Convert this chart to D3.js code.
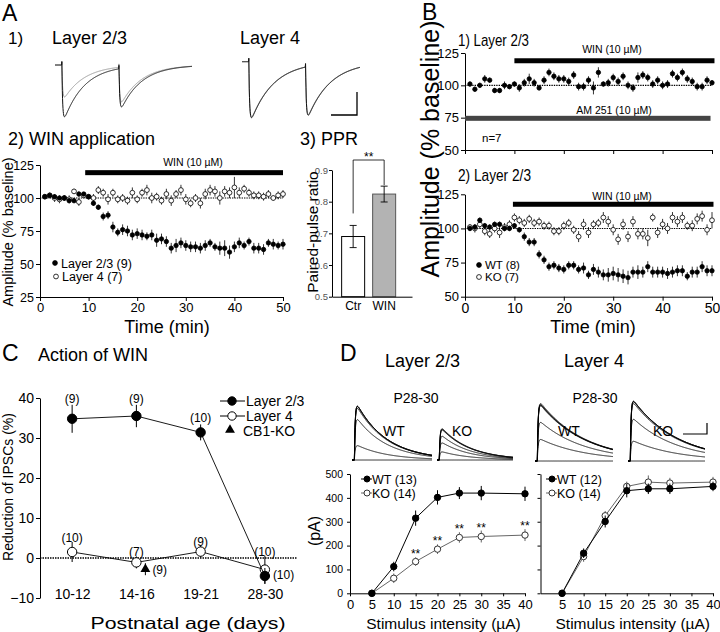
<!DOCTYPE html>
<html>
<head>
<meta charset="utf-8">
<script src="https://cdn.jsdelivr.net/npm/d3@7"></script>
<style>
  body { margin: 0; background: #fff; }
  svg { display: block; font-family: "Liberation Sans", Arial, sans-serif; }
</style>
</head>
<body>
<div id="chart"></div>
<script>
// ---------- data ----------
var minutes = d3.range(1, 51);
var minuteTicks = [0, 10, 20, 30, 40, 50];

// A1 paired-pulse traces (pA per pulse)
var a1Onsets = [6, 56];
var a1L23Ctr = [-450, -335], a1L23Win = [-278, -302];
var a1L4Ctr = [-487, -424], a1L4Win = [-480, -418];

// A2 WIN application (% baseline)
var a2Layer23 = [101,102,101,100,100,98,98,103,103,101, 96,93,86,87,78,74,76,75,72,73,
                 72,71,72,68,69,67,62,64,66,64, 63,63,62,64,66,63,62,62,59,63, 66,64,67,62,62,61,66,65,64,65];
var a2Layer23Err = [1,1.5,1,1.5,2,2,2,2,1.5,1.5, 2,2,3,3,4,3,4,4,4,4,
                    4,3,4,5,4,4,4,5,4,4, 4,4,4,4,3,3,5,6,5,4, 4,3,3,4,4,4,3,4,3,4];
var a2Layer4 = [101,102,100,99,100,99,105,97,102,101, 100,106,104,99,104,99,100,98,104,99,
                104,106,100,101,98,103,98,103,106,99, 96,100,96,103,106,105,100,105,104,108, 104,107,104,102,102,101,103,100,102,103];
var a2Layer4Err = [1.5,2,3,3,2,3,2,3,2,2, 3,3,3,4,3,3,3,3,4,3,
                   3,4,4,3,3,4,4,3,4,4, 3,3,4,4,4,4,5,4,4,8, 4,3,3,3,3,3,3,2,3,3];

// A3 paired-pulse ratio
var pprLabels = ["Ctr", "WIN"];
var pprValues = [0.69, 0.824];
var pprErr = [0.035, 0.025];

// B1 WIN on top of AM 251 (% baseline)
var b1Values = [101,97,100,105,104,96,96,100,99,101, 98,102,105,102,98,104,110,107,105,105,
                103,108,99,99,104,98,110,101,102,106, 103,107,100,98,106,108,106,101,104,100, 101,109,106,110,105,103,99,99,104,102];
var b1Err = [2,2,2,3,2,2,2,3,2,2, 3,3,4,3,2,3,3,3,3,3, 3,3,3,3,3,5,4,2,3,3,
             3,3,3,3,4,3,3,3,3,3, 3,3,3,3,3,3,3,3,3,2];

// B2 WT vs CB1-KO (% baseline)
var b2WT = [100,101,106,102,101,103,103,100,100,102, 99,94,90,90,81,77,72,73,71,70,
            73,73,70,71,66,70,68,66,66,67, 66,65,64,68,68,68,72,68,68,68, 67,68,69,69,65,68,68,72,69,69];
var b2WTErr = [2,2,2,2,2,2,2,2,2,2, 2,3,3,3,3,3,3,3,3,3, 3,3,3,4,3,4,4,4,5,5,
               5,5,5,4,5,4,4,4,4,4, 4,4,4,4,3,4,4,4,4,4];
var b2KO = [101,100,103,98,96,100,97,101,103,108, 106,104,107,104,105,102,102,98,98,102,
            104,99,94,103,97,103,104,108,105,99, 92,103,94,105,96,96,93,108,97,103, 100,108,105,108,102,102,107,109,99,106];
var b2KOErr = [2,3,3,3,3,3,4,3,3,3, 3,3,3,3,3,3,3,3,3,3, 3,3,4,4,4,3,3,4,4,4,
               4,4,4,4,4,4,6,3,4,4, 4,4,4,4,3,4,4,4,4,6];

// C action of WIN vs age (% reduction)
var ageLabels = ["10-12", "14-16", "19-21", "28-30"];
var cLayer23 = [34.8, 35.5, 31.4, -4.5], cLayer23Err = [3.5, 2.8, 2, 2];
var cLayer23N = ["(9)", "(9)", "(10)", "(10)"];
var cLayer4 = [1.5, -1.1, 1.6, -2.9], cLayer4Err = [2.5, 1.5, 1.5, 3.5];
var cLayer4N = ["(10)", "(7)", "(9)", "(10)"];
var cKOAge = "14-16", cKOValue = -2.8, cKOErr = 1.5, cKON = "(9)";

// D input-output (pA)
var stim = [5, 10, 15, 20, 25, 30, 40];
var dL23WT = [0, 112, 315, 402, 420, 420, 417], dL23WTErr = [0, 20, 32, 30, 25, 30, 30];
var dL23KO = [0, 63, 133, 185, 234, 238, 244], dL23KOErr = [0, 20, 18, 20, 22, 25, 25];
var dL4WT = [0, 168, 301, 430, 438, 438, 448], dL4WTErr = [0, 20, 25, 28, 22, 22, 20];
var dL4KO = [0, 154, 325, 448, 466, 462, 466], dL4KOErr = [0, 22, 20, 20, 28, 22, 22];
var dSigStim = [15, 20, 25, 30, 40];

// ---------- drawing ----------
var svg = d3.select("#chart").append("svg").attr("width", 720).attr("height", 632);

function txt(x, y, s, size, opt) {
  opt = opt || {};
  var t = svg.append("text").text(s).style("font-size", size + "px");
  if (opt.anchor) t.attr("text-anchor", opt.anchor);
  if (opt.rotate) t.attr("transform", "translate(" + x + "," + y + ") rotate(-90)");
  else t.attr("x", x).attr("y", y);
  if (opt.len) t.attr("textLength", opt.len).attr("lengthAdjust", "spacingAndGlyphs");
  if (opt.fill) t.attr("fill", opt.fill);
  return t;
}

function styleAxis(a, size, color) {
  a.attr("font-family", null).attr("font-size", null);
  a.selectAll("text").style("font-size", size + "px").attr("fill", color || "#000");
  a.selectAll("line,path").attr("stroke", "#000");
}

function pscPath(xs, ys, onsets, amps, tauR, tauD, art, tEnd) {
  var tp = tauR * tauD / (tauD - tauR) * Math.log(tauD / tauR);
  var norm = 1 / (Math.exp(-tp / tauD) - Math.exp(-tp / tauR));
  var pts = [];
  for (var k = 0; k <= tEnd * 5; k++) {
    var t = k / 5, v = 0;
    onsets.forEach(function (t0, i) {
      var s = t - t0;
      if (s >= 0) v += amps[i] * norm * (Math.exp(-s / tauD) - Math.exp(-s / tauR));
      if (s >= 0 && s < 0.4) v += art;
    });
    pts.push([xs(t), ys(v)]);
  }
  return d3.line()(pts);
}

// panel letters
txt(2, 21, "A", 23);
txt(422, 20, "B", 23);
txt(2, 361, "C", 23);
txt(340, 361, "D", 23);

// ---------- A1 traces ----------
txt(8, 44, "1)", 17);
txt(52, 44, "Layer 2/3", 18);
txt(240, 44, "Layer 4", 18);

var a1xL23 = d3.scaleLinear().domain([0, 120]).range([55, 192]);
var a1yL23 = d3.scaleLinear().domain([0, -500]).range([65, 122.5]);
var a1xL4 = d3.scaleLinear().domain([0, 104]).range([242, 360]);
var a1yL4 = d3.scaleLinear().domain([0, -500]).range([61.7, 119.2]);

[[a1xL23, a1yL23, a1L23Win, a1L23Ctr, 18, 120], [a1xL4, a1yL4, a1L4Win, a1L4Ctr, 20, 104]].forEach(function (p) {
  svg.append("path").attr("d", pscPath(p[0], p[1], a1Onsets, p[2], 0.7, p[4], 30, p[5]))
    .attr("fill", "none").attr("stroke", "#999").attr("stroke-width", 1);
  svg.append("path").attr("d", pscPath(p[0], p[1], a1Onsets, p[3], 0.7, p[4], 30, p[5]))
    .attr("fill", "none").attr("stroke", "#111").attr("stroke-width", 1);
});
// scale bar A1
svg.append("path").attr("d", "M331,115H357V92").attr("fill", "none").attr("stroke", "#000").attr("stroke-width", 1.3);

// ---------- A2 / B time courses ----------
function timeCourse(c) {
  var x = d3.scaleLinear().domain([0, 50]).range(c.xr);
  var y = d3.scaleLinear().domain(c.yd).range(c.yr);
  var g = svg.append("g");
  g.append("line").attr("x1", x(0)).attr("x2", x(50)).attr("y1", y(100)).attr("y2", y(100))
    .attr("stroke", "#000").attr("stroke-width", 1.1).attr("stroke-dasharray", "1.4,1");
  c.series.forEach(function (s) {
    var pts = minutes.map(function (m, i) { return { m: m, v: s.v[i], e: s.e[i] }; });
    var sg = g.append("g");
    sg.selectAll("line").data(pts).enter().append("line")
      .attr("x1", function (d) { return x(d.m); }).attr("x2", function (d) { return x(d.m); })
      .attr("y1", function (d) { return y(d.v - d.e); }).attr("y2", function (d) { return y(d.v + d.e); })
      .attr("stroke", "#000").attr("stroke-width", 0.8);
    sg.selectAll("circle").data(pts).enter().append("circle")
      .attr("cx", function (d) { return x(d.m); }).attr("cy", function (d) { return y(d.v); })
      .attr("r", s.open ? 2.4 : 2.2).attr("fill", s.open ? "#fff" : "#000").attr("stroke", "#000").attr("stroke-width", 0.8);
  });
  var ya = g.append("g").attr("transform", "translate(" + c.xr[0] + ",0)")
    .call(d3.axisLeft(y).tickValues(c.yTicks).tickSize(4).tickSizeOuter(0).tickPadding(2));
  styleAxis(ya, c.yFont);
  var xa = g.append("g").attr("transform", "translate(0," + c.yr[0] + ")")
    .call(d3.axisBottom(x).tickValues(minuteTicks).tickSize(4).tickSizeOuter(0).tickPadding(2)
      .tickFormat(c.xLabels ? d3.format("d") : function () { return ""; }));
  styleAxis(xa, c.xFont);
  return { x: x, y: y, g: g };
}

function drugBar(p, from, to, level, h, color) {
  p.g.append("rect").attr("x", p.x(from)).attr("width", p.x(to) - p.x(from))
    .attr("y", p.y(level) - h / 2).attr("height", h).attr("fill", color);
}

function dotLegend(x, y, label, open, size) {
  svg.append("circle").attr("cx", x).attr("cy", y).attr("r", 2.4)
    .attr("fill", open ? "#fff" : "#000").attr("stroke", "#000").attr("stroke-width", 0.8);
  txt(x + 6, y + size * 0.36, label, size);
}

// A2
txt(8, 145, "2)  WIN application", 18);
var a2 = timeCourse({
  xr: [40, 283], yr: [297, 165], yd: [25, 125], yTicks: [25, 50, 75, 100, 125],
  xLabels: true, xFont: 13, yFont: 12.5,
  series: [{ v: a2Layer4, e: a2Layer4Err, open: true }, { v: a2Layer23, e: a2Layer23Err, open: false }]
});
drugBar(a2, 9.3, 50, 119.2, 5, "#000");
txt(193, 166, "WIN (10 µM)", 10.5, { anchor: "middle" });
dotLegend(55, 263, "Layer 2/3 (9)", false, 12.5);
dotLegend(56, 276.5, "Layer 4 (7)", true, 12.5);
txt(167, 333, "Time (min)", 18, { anchor: "middle" });
txt(13, 232, "Amplitude (% baseline)", 14.5, { anchor: "middle", rotate: true });

// A3 PPR
txt(300, 145, "3) PPR", 18);
var px = d3.scaleBand().domain(pprLabels).range([332, 412]).paddingInner(0.258).paddingOuter(0.419).align(0.371);
var py = d3.scaleLinear().domain([0.5, 0.9]).range([296.7, 170]);
svg.selectAll(".ppr").data(pprLabels).enter().append("rect")
  .attr("x", function (d) { return px(d); }).attr("width", px.bandwidth())
  .attr("y", function (d, i) { return py(pprValues[i]); })
  .attr("height", function (d, i) { return py(0.5) - py(pprValues[i]); })
  .attr("fill", function (d, i) { return i ? "#b3b3b3" : "#fff"; })
  .attr("stroke", function (d, i) { return i ? "#555" : "#000"; }).attr("stroke-width", 1);
pprLabels.forEach(function (d, i) {
  var cx = px(d) + px.bandwidth() / 2;
  svg.append("path")
    .attr("d", "M" + (cx - 3.5) + "," + py(pprValues[i] + pprErr[i]) + "h7M" + cx + "," + py(pprValues[i] + pprErr[i]) +
      "V" + py(pprValues[i] - pprErr[i]) + "M" + (cx - 3.5) + "," + py(pprValues[i] - pprErr[i]) + "h7")
    .attr("stroke", "#000").attr("stroke-width", 0.9).attr("fill", "none");
});
var pc0 = px("Ctr") + px.bandwidth() / 2, pc1 = px("WIN") + px.bandwidth() / 2;
svg.append("path")
  .attr("d", "M" + pc0 + "," + (py(pprValues[0] + pprErr[0]) - 12) + "V160H" + pc1 + "V" + (py(pprValues[1] + pprErr[1]) - 1))
  .attr("fill", "none").attr("stroke", "#000").attr("stroke-width", 0.8);
txt((pc0 + pc1) / 2, 161, "**", 12, { anchor: "middle" });
var pya = svg.append("g").attr("transform", "translate(332,0)")
  .call(d3.axisLeft(py).tickValues([0.5, 0.6, 0.7, 0.8, 0.9]).tickFormat(d3.format(".1f")).tickSize(3).tickSizeOuter(0).tickPadding(1));
styleAxis(pya, 9.5, "#555");
var pxa = svg.append("g").attr("transform", "translate(0,296.7)")
  .call(d3.axisBottom(px).tickSize(0).tickSizeOuter(0).tickPadding(5));
styleAxis(pxa, 12);
txt(318, 232, "Paired-pulse ratio", 15.5, { anchor: "middle", rotate: true });

// B1
txt(458, 46, "1) Layer 2/3", 17, { len: 71 });
var b1 = timeCourse({
  xr: [465, 712], yr: [150, 53], yd: [50, 125], yTicks: [50, 75, 100, 125],
  xLabels: false, xFont: 13, yFont: 13,
  series: [{ v: b1Values, e: b1Err, open: false }]
});
drugBar(b1, 10, 50.5, 119, 5, "#000");
txt(612, 53, "WIN (10 µM)", 10.5, { anchor: "middle" });
drugBar(b1, 0, 49.7, 74.5, 5, "#444");
txt(614, 114, "AM 251 (10 µM)", 10.5, { anchor: "middle" });
txt(482, 142, "n=7", 11.5);

// B2
txt(458, 181, "2) Layer 2/3", 17, { len: 73 });
var b2 = timeCourse({
  xr: [465, 712], yr: [296.7, 194.3], yd: [50, 125], yTicks: [50, 75, 100, 125],
  xLabels: true, xFont: 14, yFont: 13,
  series: [{ v: b2KO, e: b2KOErr, open: true }, { v: b2WT, e: b2WTErr, open: false }]
});
drugBar(b2, 9.7, 50.3, 117.7, 5, "#000");
txt(622, 200, "WIN (10 µM)", 10.5, { anchor: "middle" });
dotLegend(479, 265, "WT (8)", false, 11.5);
dotLegend(479, 277, "KO (7)", true, 11.5);
txt(593, 333, "Time (min)", 18, { anchor: "middle" });
txt(439, 149, "Amplitude (% baseline)", 25, { anchor: "middle", rotate: true });

// ---------- C ----------
txt(38, 361, "Action of WIN", 18);
var cx = d3.scalePoint().domain(ageLabels).range([40, 297]).padding(0.5);
var cy = d3.scaleLinear().domain([-10, 40]).range([598, 398]);
svg.append("line").attr("x1", 40).attr("x2", 297).attr("y1", cy(0)).attr("y2", cy(0))
  .attr("stroke", "#000").attr("stroke-width", 1.5).attr("stroke-dasharray", "1.5,1");
var cya = svg.append("g").attr("transform", "translate(40,0)")
  .call(d3.axisLeft(cy).tickValues([-10, 0, 10, 20, 30, 40]).tickSize(4).tickSizeOuter(0).tickPadding(2));
styleAxis(cya, 14);
var cxa = svg.append("g").attr("transform", "translate(0,586)")
  .call(d3.axisBottom(cx).tickSize(0).tickPadding(3));
cxa.select(".domain").remove();
styleAxis(cxa, 14);

function cSeries(vals, errs, open) {
  var line = d3.line().x(function (d, i) { return cx(ageLabels[i]); }).y(function (d) { return cy(d); });
  svg.append("path").attr("d", line(vals)).attr("fill", "none").attr("stroke", "#000").attr("stroke-width", 0.9);
  vals.forEach(function (v, i) {
    svg.append("line").attr("x1", cx(ageLabels[i])).attr("x2", cx(ageLabels[i]))
      .attr("y1", cy(v - errs[i])).attr("y2", cy(v + errs[i])).attr("stroke", "#000").attr("stroke-width", 1);
  });
  svg.selectAll(null).data(vals).enter().append("circle")
    .attr("cx", function (d, i) { return cx(ageLabels[i]); }).attr("cy", function (d) { return cy(d); })
    .attr("r", 4.7).attr("fill", open ? "#fff" : "#000").attr("stroke", "#000").attr("stroke-width", 1);
}
cSeries(cLayer4, cLayer4Err, true);
cSeries(cLayer23, cLayer23Err, false);
// CB1-KO
var koX = cx(cKOAge) + 9;
svg.append("line").attr("x1", koX).attr("x2", koX).attr("y1", cy(cKOValue - cKOErr)).attr("y2", cy(cKOValue + cKOErr))
  .attr("stroke", "#000");
svg.append("path").attr("d", d3.symbol().type(d3.symbolTriangle).size(42)())
  .attr("transform", "translate(" + koX + "," + cy(cKOValue) + ")").attr("fill", "#000");
txt(koX + 7, cy(cKOValue) + 4.5, cKON, 12);
// n labels
cLayer23N.forEach(function (n, i) {
  if (i === ageLabels.length - 1) txt(cx(ageLabels[i]) + 8, cy(cLayer23[i]) - 2 + 4.5, n, 12);
  else txt(cx(ageLabels[i]), cy(cLayer23[i] + cLayer23Err[i]) - 2, n, 12, { anchor: "middle" });
});
cLayer4N.forEach(function (n, i) {
  txt(cx(ageLabels[i]), cy(cLayer4[i] + cLayer4Err[i]), n, 12, { anchor: "middle" });
});
// legend
[["Layer 2/3", false], ["Layer 4", true]].forEach(function (d, i) {
  var ly = 401 + i * 15;
  svg.append("line").attr("x1", 220).attr("x2", 245).attr("y1", ly).attr("y2", ly).attr("stroke", "#000");
  svg.append("circle").attr("cx", 232).attr("cy", ly).attr("r", 4.2)
    .attr("fill", d[1] ? "#fff" : "#000").attr("stroke", "#000");
  txt(246, ly + 5, d[0], 14);
});
svg.append("path").attr("d", d3.symbol().type(d3.symbolTriangle).size(42)())
  .attr("transform", "translate(230,430)").attr("fill", "#000");
txt(243, 436, "CB1-KO", 14);
txt(13, 487, "Reduction of IPSCs (%)", 14, { anchor: "middle", rotate: true });
txt(188, 629, "Postnatal age (days)", 16.5, { anchor: "middle", len: 195 });

// ---------- D ----------
txt(385, 367, "Layer 2/3", 18);
txt(564, 367, "Layer 4", 18);
txt(416, 403, "P28-30", 14, { anchor: "middle" });
txt(595, 403, "P28-30", 14, { anchor: "middle" });

var dAmp = d3.scaleLinear().domain([0, 500]).range([0, 64]);
function traceGroup(x0, x1, base, amps, tauD, label, labelX) {
  var xs = d3.scaleLinear().domain([0, 100]).range([x0, x1]);
  var ys = function (v) { return base - dAmp(v); };
  amps.forEach(function (a) {
    svg.append("path").attr("d", pscPath(xs, ys, [3], [a], 1, tauD, 0, 100))
      .attr("fill", "none").attr("stroke", "#000").attr("stroke-width", 0.9);
  });
  txt(labelX, 436, label, 14);
}
traceGroup(352, 432, 460, dL23WT, 38, "WT", 383);
traceGroup(437, 513, 460, dL23KO, 38, "KO", 452);
traceGroup(535, 613, 461, dL4WT, 58, "WT", 558);
traceGroup(628, 705, 461, dL4KO, 58, "KO", 653);
svg.append("path").attr("d", "M683,434H707V423").attr("fill", "none").attr("stroke", "#000").attr("stroke-width", 1.2);

var dy = d3.scaleLinear().domain([0, 500]).range([593.3, 474]);
function ioPlot(xr, wt, wtErr, ko, koErr, yLabels, xTicks, legend, lx) {
  var x = d3.scaleLinear().domain([0, 40]).range(xr);
  var ya = svg.append("g").attr("transform", "translate(" + xr[0] + ",0)")
    .call(d3.axisLeft(dy).tickValues([0, 100, 200, 300, 400, 500]).tickSize(3).tickSizeOuter(0).tickPadding(4)
      .tickFormat(yLabels ? d3.format("d") : function () { return ""; }));
  styleAxis(ya, 10.5);
  var xa = svg.append("g").attr("transform", "translate(0," + dy(0) + ")")
    .call(d3.axisBottom(x).tickValues(xTicks).tickSize(3).tickSizeOuter(0).tickPadding(3));
  styleAxis(xa, 13);
  [[ko, koErr, true, "#666"], [wt, wtErr, false, "#000"]].forEach(function (s) {
    var line = d3.line().x(function (d, i) { return x(stim[i]); }).y(function (d) { return dy(d); });
    svg.append("path").attr("d", line(s[0])).attr("fill", "none").attr("stroke", s[3]).attr("stroke-width", 1);
    s[0].forEach(function (v, i) {
      svg.append("line").attr("x1", x(stim[i])).attr("x2", x(stim[i]))
        .attr("y1", dy(Math.max(0, v - s[1][i]))).attr("y2", dy(v + s[1][i])).attr("stroke", s[3]);
    });
    svg.selectAll(null).data(s[0]).enter().append("circle")
      .attr("cx", function (d, i) { return x(stim[i]); }).attr("cy", function (d) { return dy(d); })
      .attr("r", 3.2).attr("fill", s[2] ? "#fff" : "#000").attr("stroke", s[2] ? "#333" : "#000").attr("stroke-width", 1);
  });
  legend.forEach(function (l, i) {
    var ly = 479 + i * 14;
    svg.append("line").attr("x1", lx - 6).attr("x2", lx + 5).attr("y1", ly).attr("y2", ly).attr("stroke", i ? "#666" : "#000");
    svg.append("circle").attr("cx", lx).attr("cy", ly).attr("r", 3)
      .attr("fill", i ? "#fff" : "#000").attr("stroke", i ? "#333" : "#000");
    txt(lx + 5, ly + 4.5, l, 12.5);
  });
  txt((xr[0] + xr[1]) / 2 + 6, 629, "Stimulus intensity (µA)", 15.5, { anchor: "middle" });
  return x;
}
var dxL = ioPlot([350, 525], dL23WT, dL23WTErr, dL23KO, dL23KOErr, true, [0, 5, 10, 15, 20, 25, 30, 35, 40],
  ["WT (13)", "KO (14)"], 367);
ioPlot([540.5, 713], dL4WT, dL4WTErr, dL4KO, dL4KOErr, false, [5, 10, 15, 20, 25, 30, 35, 40],
  ["WT (12)", "KO (14)"], 552);
dSigStim.forEach(function (s) {
  var i = stim.indexOf(s);
  txt(dxL(s), dy(dL23KO[i] + dL23KOErr[i]) + 1, "**", 12, { anchor: "middle" });
});
txt(320, 531, "(pA)", 16, { anchor: "middle", rotate: true });
</script>
</body>
</html>
